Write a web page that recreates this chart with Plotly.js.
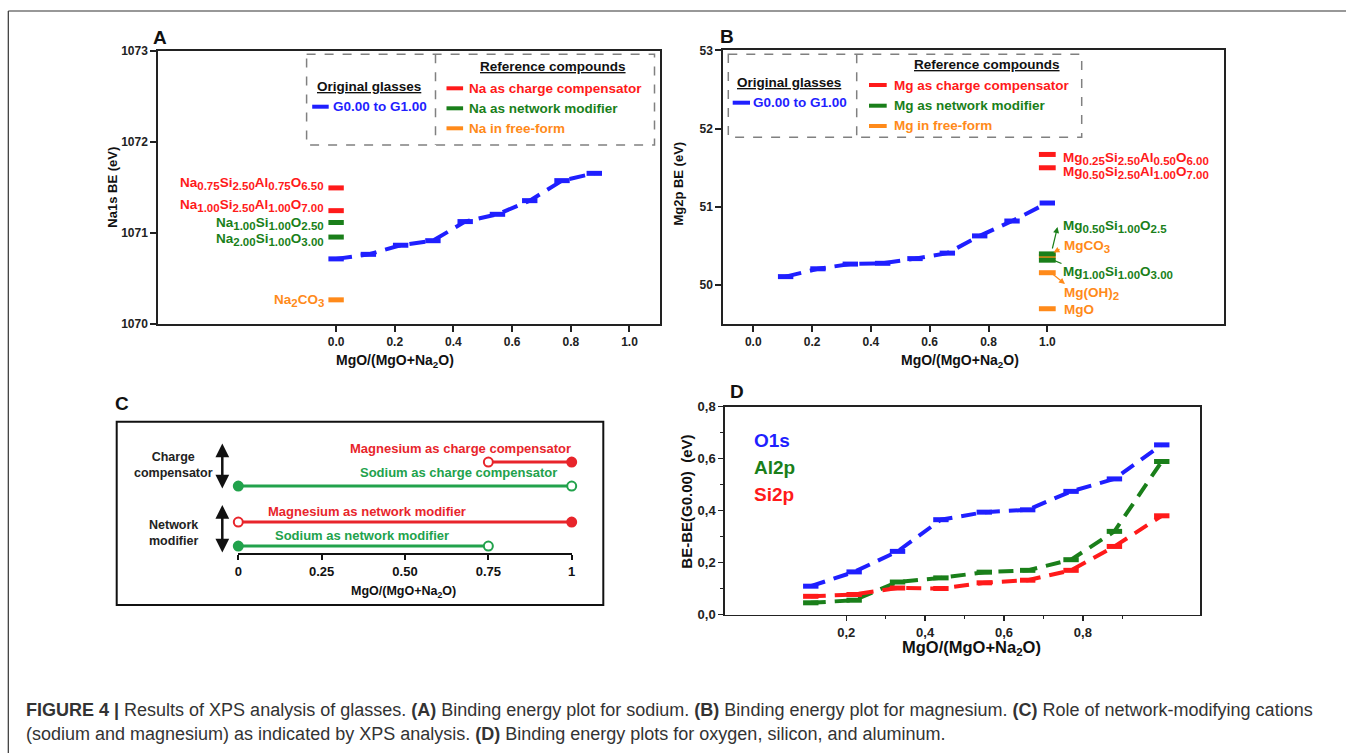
<!DOCTYPE html>
<html><head><meta charset="utf-8">
<script src="https://cdn.plot.ly/plotly-3.0.1.min.js"></script>
<style>html,body{margin:0;padding:0;background:#fff;}#chart{width:1346px;height:753px;}</style>
</head><body><div id="chart"></div>
<script>
// ================= DATA =================
// Panel A: Na1s binding energy
const ratioA = [0.00, 0.11, 0.22, 0.33, 0.44, 0.55, 0.66, 0.77, 0.88];
const na1sBE = [1070.71, 1070.76, 1070.86, 1070.91, 1071.12, 1071.20, 1071.35, 1071.57, 1071.65];
const naRefNames = [
  'Na<sub>0.75</sub>Si<sub>2.50</sub>Al<sub>0.75</sub>O<sub>6.50</sub>',
  'Na<sub>1.00</sub>Si<sub>2.50</sub>Al<sub>1.00</sub>O<sub>7.00</sub>',
  'Na<sub>1.00</sub>Si<sub>1.00</sub>O<sub>2.50</sub>',
  'Na<sub>2.00</sub>Si<sub>1.00</sub>O<sub>3.00</sub>',
  'Na<sub>2</sub>CO<sub>3</sub>'
];
const naRefRatio = [0, 0, 0, 0, 0];
const naRefBE = [1071.49, 1071.24, 1071.11, 1070.95, 1070.26];
const naRefType = ['cc', 'cc', 'nm', 'nm', 'ff'];
const naLegend = ['Na as charge compensator', 'Na as network modifier', 'Na in free-form'];

// Panel B: Mg2p binding energy
const ratioB = [0.11, 0.22, 0.33, 0.44, 0.55, 0.66, 0.77, 0.88, 1.00];
const mg2pBE = [50.11, 50.21, 50.27, 50.28, 50.34, 50.41, 50.63, 50.82, 51.05];
const mgRefNames = [
  'Mg<sub>0.25</sub>Si<sub>2.50</sub>Al<sub>0.50</sub>O<sub>6.00</sub>',
  'Mg<sub>0.50</sub>Si<sub>2.50</sub>Al<sub>1.00</sub>O<sub>7.00</sub>',
  'MgCO<sub>3</sub>',
  'Mg<sub>0.50</sub>Si<sub>1.00</sub>O<sub>2.5</sub>',
  'Mg<sub>1.00</sub>Si<sub>1.00</sub>O<sub>3.00</sub>',
  'Mg(OH)<sub>2</sub>',
  'MgO'
];
const mgRefRatio = [1, 1, 1, 1, 1, 1, 1];
const mgRefBE = [51.67, 51.50, 50.37, 50.40, 50.32, 50.16, 49.70];
const mgRefType = ['cc', 'cc', 'ff', 'nm', 'nm', 'ff', 'ff'];
const mgLegend = ['Mg as charge compensator', 'Mg as network modifier', 'Mg in free-form'];

// Panel C: role of network-modifying cations
const roleNames = ['Magnesium as charge compensator', 'Sodium as charge compensator',
                   'Magnesium as network modifier', 'Sodium as network modifier'];
const roleRow = [3.8, 2.8, 1.3, 0.3];
const roleFrom = [0.75, 0, 0, 0];
const roleTo = [1, 1, 1, 0.75];
const roleFromOpen = [true, false, true, false];
const roleToOpen = [false, true, false, true];
const cTickVals = [0, 0.25, 0.5, 0.75, 1];
const cTickText = ['0', '0.25', '0.50', '0.75', '1'];

// Panel D: BE - BE(G0.00)
const ratioD = [0.11, 0.22, 0.33, 0.44, 0.55, 0.66, 0.77, 0.88, 1.00];
const o1s  = [0.109, 0.164, 0.243, 0.365, 0.394, 0.403, 0.474, 0.522, 0.653];
const al2p = [0.045, 0.055, 0.125, 0.141, 0.163, 0.170, 0.211, 0.320, 0.589];
const si2p = [0.070, 0.077, 0.102, 0.100, 0.122, 0.132, 0.170, 0.262, 0.380];
const dNames = ['O1s', 'Al2p', 'Si2p'];
const dTickVals = [0, 0.2, 0.4, 0.6, 0.8];
const dTickText = ['0,0', '0,2', '0,4', '0,6', '0,8'];
const dXTickVals = [0.2, 0.4, 0.6, 0.8];
const dXTickText = ['0,2', '0,4', '0,6', '0,8'];

// ================= STYLE / LAYOUT =================
const W = 1346, H = 753;
const X = p => p / W, Y = p => 1 - p / H;
const FONT = 'Liberation Sans, Arial, sans-serif';
const BLUE = '#1f1fff', RED = '#ff1a1a', GREEN = '#1a7f1a', ORANGE = '#ff8a1a';
const CRED = '#e8252b', CGREEN = '#22a24c';
const refColor = {cc: RED, nm: GREEN, ff: ORANGE};
const dash = '16px,9px';
// larger subscripts (the figure's subscripts are nearly full size)
const bigSub = (s, px) => s.replace(/<sub>/g, '<sub><span style="font-size:' + px + 'px">').replace(/<\/sub>/g, '</span></sub>');

const traces = [];
// A
traces.push({x: ratioA, y: na1sBE, xaxis: 'x', yaxis: 'y', mode: 'lines+markers', cliponaxis: false,
  line: {color: BLUE, width: 4, dash: dash},
  marker: {symbol: 'line-ew', size: 11, color: BLUE, line: {width: 5, color: BLUE}}});
['cc', 'nm', 'ff'].forEach(t => {
  const idx = naRefType.map((v, i) => v === t ? i : -1).filter(i => i >= 0);
  traces.push({x: idx.map(i => naRefRatio[i]), y: idx.map(i => naRefBE[i]), xaxis: 'x', yaxis: 'y',
    mode: 'markers', cliponaxis: false,
    marker: {symbol: 'line-ew', size: 11, color: refColor[t], line: {width: 5, color: refColor[t]}}});
});
// B
traces.push({x: ratioB, y: mg2pBE, xaxis: 'x2', yaxis: 'y2', mode: 'lines+markers', cliponaxis: false,
  line: {color: BLUE, width: 4, dash: dash},
  marker: {symbol: 'line-ew', size: 11, color: BLUE, line: {width: 5, color: BLUE}}});
['cc', 'ff', 'nm'].forEach(t => {
  const idx = mgRefType.map((v, i) => v === t ? i : -1).filter(i => i >= 0);
  traces.push({x: idx.map(i => mgRefRatio[i]), y: idx.map(i => mgRefBE[i]), xaxis: 'x2', yaxis: 'y2',
    mode: 'markers', cliponaxis: false,
    marker: {symbol: 'line-ew', size: 12, color: refColor[t], line: {width: 5, color: refColor[t]}}});
});
// C
const cColors = [CRED, CGREEN, CRED, CGREEN];
roleNames.forEach((n, i) => {
  const c = cColors[i];
  traces.push({x: [roleFrom[i], roleTo[i]], y: [roleRow[i], roleRow[i]], xaxis: 'x3', yaxis: 'y3',
    mode: 'lines+markers', cliponaxis: false,
    line: {color: c, width: 3},
    marker: {size: 9, color: [roleFromOpen[i] ? '#fff' : c, roleToOpen[i] ? '#fff' : c],
             line: {width: 2, color: c}}});
});
// D
const dColors = [BLUE, GREEN, RED];
[o1s, al2p, si2p].forEach((s, i) => {
  traces.push({x: ratioD, y: s, xaxis: 'x4', yaxis: 'y4', mode: 'lines+markers', cliponaxis: false,
    line: {color: dColors[i], width: 4, dash: '15px,9px'},
    marker: {symbol: 'line-ew', size: 11, color: dColors[i], line: {width: 5, color: dColors[i]}}});
});

const tickFont = {family: FONT, size: 12, color: '#222', weight: 'bold'};
function boxAxis(extra) {
  return Object.assign({showgrid: false, zeroline: false, showline: true, linecolor: '#222', linewidth: 2,
    mirror: true, ticks: 'outside', ticklen: 6, tickwidth: 2, tickcolor: '#222', tickfont: tickFont,
    fixedrange: true}, extra);
}

const layout = {
  width: W, height: H, margin: {l: 0, r: 0, t: 0, b: 0}, showlegend: false,
  paper_bgcolor: '#fff', plot_bgcolor: '#fff', font: {family: FONT},
  xaxis: boxAxis({domain: [X(158.3), X(660)], range: [-0.606, 1.104], tickmode: 'array',
    tickvals: [0, 0.2, 0.4, 0.6, 0.8, 1.0], ticktext: ['0.0', '0.2', '0.4', '0.6', '0.8', '1.0'], anchor: 'y'}),
  yaxis: boxAxis({domain: [Y(323.5), Y(50.5)], range: [1070, 1073], tickmode: 'array',
    tickvals: [1070, 1071, 1072, 1073], anchor: 'x'}),
  xaxis2: boxAxis({domain: [X(723.3), X(1224)], range: [-0.102, 1.601], tickmode: 'array',
    tickvals: [0, 0.2, 0.4, 0.6, 0.8, 1.0], ticktext: ['0.0', '0.2', '0.4', '0.6', '0.8', '1.0'], anchor: 'y2'}),
  yaxis2: boxAxis({domain: [Y(324), Y(50.3)], range: [49.505, 53], tickmode: 'array',
    tickvals: [50, 51, 52, 53], anchor: 'x2'}),
  xaxis3: {domain: [X(238.3), X(571.7)], range: [0, 1], anchor: 'y3', showgrid: false, zeroline: false,
    showline: true, linecolor: '#111', linewidth: 2, ticks: 'outside', ticklen: 5, tickwidth: 2, tickcolor: '#111',
    tickmode: 'array', tickvals: cTickVals, ticktext: cTickText,
    tickfont: {family: FONT, size: 13, color: '#111', weight: 'bold'}, fixedrange: true},
  yaxis3: {domain: [Y(553.3), Y(440)], range: [0, 4.72], anchor: 'x3', visible: false, fixedrange: true},
  xaxis4: boxAxis({domain: [X(724.8), X(1200)], range: [-0.108, 1.097], anchor: 'y4', linewidth: 1.5,
    tickwidth: 1.5, ticklen: 5, tickmode: 'array', tickvals: dXTickVals, ticktext: dXTickText,
    tickfont: {family: FONT, size: 13, color: '#222', weight: 'bold'},
    minor: {tickmode: 'array', tickvals: [0.3, 0.5, 0.7, 0.9], ticks: 'outside', ticklen: 3, tickcolor: '#222', tickwidth: 1.5}}),
  yaxis4: boxAxis({domain: [Y(614.5), Y(406.7)], range: [0, 0.8], anchor: 'x4', linewidth: 1.5,
    tickwidth: 1.5, ticklen: 5, tickmode: 'array', tickvals: dTickVals, ticktext: dTickText,
    tickfont: {family: FONT, size: 13, color: '#222', weight: 'bold'},
    minor: {tickmode: 'array', tickvals: [0.1, 0.3, 0.5, 0.7], ticks: 'outside', ticklen: 3, tickcolor: '#222', tickwidth: 1.5}}),
  shapes: [], annotations: []
};

const S = layout.shapes, A = layout.annotations;
function pline(x0, y0, x1, y1, color, width, dashS) {
  S.push({type: 'line', xref: 'paper', yref: 'paper', x0: X(x0), y0: Y(y0), x1: X(x1), y1: Y(y1),
    line: {color: color, width: width, dash: dashS || 'solid'}});
}
function prect(x0, y0, x1, y1, color, width, dashS) {
  S.push({type: 'rect', xref: 'paper', yref: 'paper', x0: X(x0), y0: Y(y0), x1: X(x1), y1: Y(y1),
    line: {color: color, width: width, dash: dashS || 'solid'}, fillcolor: 'rgba(0,0,0,0)'});
}
function ptext(x, y, text, opts) {
  opts = opts || {};
  A.push({xref: 'paper', yref: 'paper', x: X(x), y: Y(y), text: text, showarrow: false,
    xanchor: opts.xanchor || 'center', yanchor: opts.yanchor || 'middle', align: opts.align || 'center',
    textangle: opts.angle || 0,
    font: {family: FONT, size: opts.size || 12, color: opts.color || '#111', weight: opts.weight || 'bold'}});
}

// outer frame (open on right / bottom)
pline(8.3, 11, 1346, 11, '#333', 1.2);
pline(8.3, 11, 8.3, 753, '#333', 1.2);

// ---- Panel A ----
ptext(160, 37.5, 'A', {size: 19});
ptext(111.7, 187, 'Na1s BE (eV)', {size: 13, angle: -90});
ptext(395, 361, 'MgO/(MgO+Na<sub>2</sub>O)', {size: 14});
prect(306.6, 54.3, 654.5, 145, '#808080', 1.5, 'dash');
pline(435.5, 54.3, 435.5, 145, '#808080', 1.5, 'dash');
ptext(369.2, 86.7, '<u>Original glasses</u>', {size: 13.5});
pline(312.2, 106.7, 328.7, 106.7, BLUE, 4);
ptext(331, 106.7, 'G0.00 to G1.00', {size: 13.5, color: BLUE, xanchor: 'left'});
ptext(553.3, 66.7, '<u>Reference compounds</u>', {size: 13.5});
const legY = [88.3, 108.3, 128.3], legC = [RED, GREEN, ORANGE];
naLegend.forEach((t, i) => {
  pline(446.5, legY[i], 463.1, legY[i], legC[i], 4);
  ptext(466.5, legY[i], t, {size: 13.5, color: legC[i], xanchor: 'left'});
});
// label positions (pixel centre of each label) to the left of the reference bars
const naLabelPy = [183, 205.5, 223.5, 239.5, 300];
naRefNames.forEach((n, i) => {
  ptext(325.5, naLabelPy[i], bigSub(n, 11.5), {size: 13.5, color: refColor[naRefType[i]], xanchor: 'right'});
});

// ---- Panel B ----
ptext(726.7, 37, 'B', {size: 19});
ptext(678.3, 183.3, 'Mg2p BE (eV)', {size: 13, angle: -90});
ptext(960, 361, 'MgO/(MgO+Na<sub>2</sub>O)', {size: 14});
prect(728.3, 54.3, 1081.7, 137.3, '#808080', 1.5, 'dash');
pline(856.7, 54.3, 856.7, 137.3, '#808080', 1.5, 'dash');
ptext(789, 82.3, '<u>Original glasses</u>', {size: 13.5});
pline(732.7, 102.7, 750, 102.7, BLUE, 4);
ptext(750.5, 102.7, 'G0.00 to G1.00', {size: 13.5, color: BLUE, xanchor: 'left'});
ptext(986.7, 64.3, '<u>Reference compounds</u>', {size: 13.5});
const legYB = [85, 105.7, 126];
mgLegend.forEach((t, i) => {
  pline(869, legYB[i], 886.7, legYB[i], legC[i], 4);
  ptext(892, legYB[i], t, {size: 13.5, color: legC[i], xanchor: 'left'});
});
// labels to the right of the reference bars (pixel centre of each label)
const mgLabelPy = [158.5, 172, 247, 227, 272, 293.5, 309];
const mgLabelPx = [1060.7, 1060.7, 1062, 1060.7, 1060.7, 1062, 1062];
mgRefNames.forEach((n, i) => {
  ptext(mgLabelPx[i], mgLabelPy[i], bigSub(n, 11.5), {size: 13.5, color: refColor[mgRefType[i]], xanchor: 'left'});
});
function parrow(hx, hy, tx, ty, color, head) {
  A.push({xref: 'paper', yref: 'paper', x: X(hx), y: Y(hy), ax: X(tx), ay: Y(ty), axref: 'paper', ayref: 'paper',
    text: '', showarrow: true, arrowhead: head, arrowsize: 1, arrowwidth: 1.2, arrowcolor: color});
}
parrow(1057.5, 227, 1052, 250, GREEN, 2);
parrow(1053.5, 252.5, 1061, 248.5, ORANGE, 2);
parrow(1061.5, 263.5, 1051.7, 259.5, GREEN, 0);
parrow(1065, 284, 1051.7, 273.3, ORANGE, 2);

// ---- Panel C ----
ptext(121.7, 403.3, 'C', {size: 19});
prect(116.7, 421.7, 603.3, 605, '#111', 2);
ptext(173.3, 465, 'Charge<br>compensator', {size: 12.5, color: '#222'});
ptext(173.3, 533.3, 'Network<br>modifier', {size: 12.5, color: '#222'});
A.push({xref: 'paper', yref: 'paper', x: X(222.3), y: Y(443.5), ax: X(222.3), ay: Y(490), axref: 'paper', ayref: 'paper',
  text: '', showarrow: true, arrowhead: 2, arrowside: 'end+start', arrowsize: 1.1, arrowwidth: 2.5, arrowcolor: '#111'});
A.push({xref: 'paper', yref: 'paper', x: X(222.3), y: Y(505), ax: X(222.3), ay: Y(554), axref: 'paper', ayref: 'paper',
  text: '', showarrow: true, arrowhead: 2, arrowside: 'end+start', arrowsize: 1.1, arrowwidth: 2.5, arrowcolor: '#111'});
const cLabelX = [0.665, 0.66, 0.385, 0.37];
const cLabelShift = [13.5, 13.5, 11, 10.5];
roleNames.forEach((n, i) => {
  A.push({xref: 'x3', yref: 'y3', x: cLabelX[i], y: roleRow[i], yshift: cLabelShift[i], text: n, showarrow: false,
    xanchor: 'center', yanchor: 'middle', font: {family: FONT, size: 13, color: cColors[i], weight: 'bold'}});
});
ptext(403.3, 591.7, 'MgO/(MgO+Na<sub>2</sub>O)', {size: 12.5});

// ---- Panel D ----
ptext(737, 391, 'D', {size: 19});
ptext(687, 501.7, 'BE-BE(G0.00)  (eV)', {size: 15, angle: -90});
ptext(971, 648.3, 'MgO/(MgO+Na<sub>2</sub>O)', {size: 16.5});
const dLegY = [440, 467.3, 494.3];
dNames.forEach((n, i) => ptext(752.3, dLegY[i], n, {size: 19, color: dColors[i], xanchor: 'left'}));

// ---- Caption ----
A.push({xref: 'paper', yref: 'paper', x: X(24), y: Y(710), xanchor: 'left', yanchor: 'middle', align: 'left', showarrow: false,
  text: '<b>FIGURE 4 |</b> Results of XPS analysis of glasses. <b>(A)</b> Binding energy plot for sodium. <b>(B)</b> Binding energy plot for magnesium. <b>(C)</b> Role of network-modifying cations',
  font: {family: FONT, size: 18, color: '#333'}});
A.push({xref: 'paper', yref: 'paper', x: X(24), y: Y(734), xanchor: 'left', yanchor: 'middle', align: 'left', showarrow: false,
  text: '(sodium and magnesium) as indicated by XPS analysis. <b>(D)</b> Binding energy plots for oxygen, silicon, and aluminum.',
  font: {family: FONT, size: 18, color: '#333'}});

Plotly.newPlot('chart', traces, layout, {staticPlot: true, displayModeBar: false});
</script></body></html>
